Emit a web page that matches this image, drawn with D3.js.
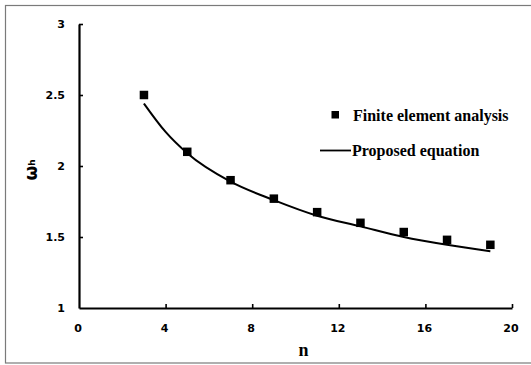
<!DOCTYPE html>
<html>
<head>
<meta charset="utf-8">
<script src="https://cdn.jsdelivr.net/npm/d3@7/dist/d3.min.js"></script>
<style>
  html, body { margin: 0; padding: 0; background: #fff; }
  svg { display: block; }
  .tick text { font-family: "DejaVu Sans", sans-serif; font-weight: 700; font-size: 11px; fill: #000; }
</style>
</head>
<body>
<svg id="chart" width="531" height="365"></svg>
<script>
// Finite element results for ω_h against n
const feN = [3, 5, 7, 9, 11, 13, 15, 17, 19];
const feOmega = [2.50, 2.10, 1.90, 1.77, 1.675, 1.60, 1.535, 1.48, 1.445];

// Proposed equation, sampled along n
const eqN = [3, 4, 5, 7, 9, 11, 13, 15, 17, 19];
const eqOmega = [2.44, 2.24, 2.09, 1.89, 1.76, 1.65, 1.575, 1.50, 1.445, 1.40];

const xTicks = [0, 4, 8, 12, 16, 20];
const yTicks = [1, 1.5, 2, 2.5, 3];

const legendLabels = ["Finite element analysis", "Proposed equation"];

const svg = d3.select("#chart");

// outer frame
svg.append("rect")
  .attr("x", 5.5).attr("y", 5.5)
  .attr("width", 540).attr("height", 357.5)
  .attr("fill", "none").attr("stroke", "#7a7a7a").attr("stroke-width", 1.2);

const x = d3.scaleLinear().domain([0, 20]).range([79, 512]);
const y = d3.scaleLinear().domain([1, 3]).range([308, 24]);

// x axis
const gx = svg.append("g").attr("transform", `translate(0,${y(1)})`)
  .call(d3.axisBottom(x).tickValues(xTicks).tickFormat(d3.format("d")).tickSizeInner(-4).tickSizeOuter(0));
gx.select(".domain").attr("stroke", "#000").attr("stroke-width", 2.2);
gx.selectAll(".tick line").attr("stroke", "#000").attr("stroke-width", 1.6);
gx.selectAll(".tick text").attr("y", 16).attr("dx", -1.5);
gx.selectAll(".tick").filter(d => d === 0).select("line").remove();

// y axis
const gy = svg.append("g").attr("transform", `translate(${x(0)},0)`)
  .call(d3.axisLeft(y).tickValues(yTicks).tickFormat(d => d).tickSizeInner(-4).tickSizeOuter(0));
gy.select(".domain").attr("stroke", "#000").attr("stroke-width", 2.2);
gy.selectAll(".tick line").attr("stroke", "#000").attr("stroke-width", 1.6);
gy.selectAll(".tick text").attr("x", -14);
gy.selectAll(".tick").filter(d => d === 1).select("line").remove();

// axis titles
svg.append("text")
  .attr("x", 303.5).attr("y", 356)
  .attr("text-anchor", "middle")
  .attr("font-family", "Liberation Serif, Times New Roman, serif")
  .attr("font-weight", 700).attr("font-size", 18)
  .text("n");

const yTitle = svg.append("text")
  .attr("transform", `translate(37,170) rotate(-90)`)
  .attr("text-anchor", "middle")
  .attr("font-family", "'DejaVu Sans', sans-serif")
  .attr("font-weight", 700).attr("font-size", 17);
yTitle.append("tspan").text("ω");
yTitle.append("tspan").attr("font-size", 9).attr("dy", -2).text("h");

// proposed equation curve
const line = d3.line()
  .x((d, i) => x(eqN[i]))
  .y(d => y(d))
  .curve(d3.curveMonotoneX);
svg.append("path")
  .datum(eqOmega)
  .attr("d", line)
  .attr("fill", "none").attr("stroke", "#000").attr("stroke-width", 2);

// finite element markers
const sq = 8.5;
svg.append("g").selectAll("rect")
  .data(feOmega)
  .join("rect")
  .attr("x", (d, i) => x(feN[i]) - sq / 2)
  .attr("y", d => y(d) - sq / 2)
  .attr("width", sq).attr("height", sq)
  .attr("fill", "#000");

// legend
const lg = svg.append("g")
  .attr("font-family", "Liberation Serif, Times New Roman, serif")
  .attr("font-weight", 700).attr("font-size", 16);
lg.append("rect").attr("x", 331.5).attr("y", 111).attr("width", 7.5).attr("height", 7.5).attr("fill", "#000");
lg.append("text").attr("x", 353).attr("y", 120.5).text(legendLabels[0]);
lg.append("line").attr("x1", 320).attr("x2", 351).attr("y1", 150.5).attr("y2", 150.5)
  .attr("stroke", "#000").attr("stroke-width", 1.8);
lg.append("text").attr("x", 352).attr("y", 156).text(legendLabels[1]);
</script>
</body>
</html>
